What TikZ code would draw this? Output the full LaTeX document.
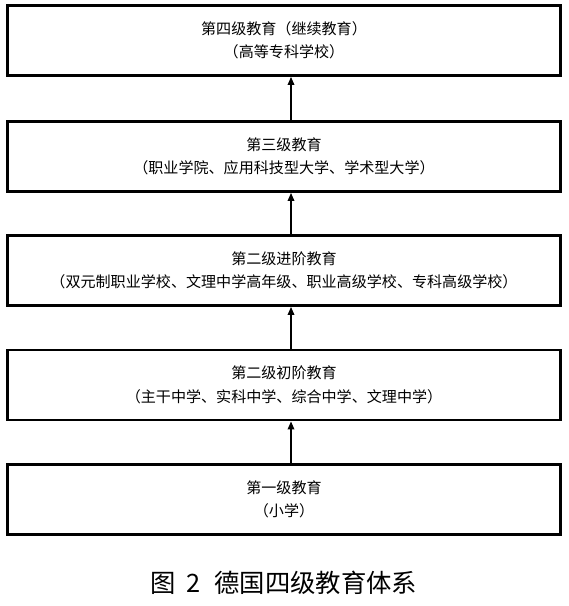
\documentclass[tikz,border=0pt]{standalone}
\usepackage{fontspec}
\setmainfont{Noto Sans CJK SC}
\usetikzlibrary{arrows.meta}

\tikzset{
  jibox/.style={draw, line width=2.2pt, minimum width=415pt, minimum height=52.5pt,
    inner sep=0pt, align=center, font=\fontsize{11.3}{17.5}\selectfont},
  shang/.style={-{Triangle[length=6pt,width=5pt]}, line width=0.9pt}
}

\begin{document}
\begin{tikzpicture}[x=0.75pt,y=-0.75pt]
    \useasboundingbox (0,0) rectangle (568,606);

    % Niveles
    \node[jibox] (ji4)  at (284,40.5)  {第四级教育（继续教育）\\（高等专科学校）};
    \node[jibox] (ji3)  at (284,156.5) {第三级教育\\（职业学院、应用科技型大学、学术型大学）};
    \node[jibox] (ji22) at (284,270.5) {第二级进阶教育\\（双元制职业学校、文理中学高年级、职业高级学校、专科高级学校）};
    \node[jibox] (ji21) at (284,385)   {第二级初阶教育\\（主干中学、实科中学、综合中学、文理中学）};
    \node[jibox] (ji1)  at (284,499.5) {第一级教育\\（小学）};

    % Flechas
    \draw[shang] ([xshift=5.25pt]ji1.north)  -- ([xshift=5.25pt]ji21.south);
    \draw[shang] ([xshift=5.25pt]ji21.north) -- ([xshift=5.25pt]ji22.south);
    \draw[shang] ([xshift=5.25pt]ji22.north) -- ([xshift=5.25pt]ji3.south);
    \draw[shang] ([xshift=5.25pt]ji3.north)  -- ([xshift=5.25pt]ji4.south);

    % Título
    \node[font=\fontsize{19}{22}\selectfont] (tu) at (284,583)
        {图\hspace{8pt}2\hspace{10pt}德国四级教育体系};
\end{tikzpicture}
\end{document}
